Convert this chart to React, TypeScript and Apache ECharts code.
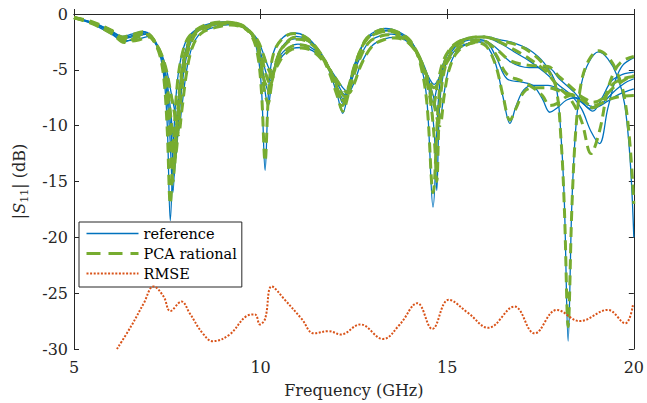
import React, { useEffect, useRef } from "react";
import * as echarts from "echarts";

// ---------- data ----------
const xTicks = [5, 10, 15, 20];
const yTicks = [0, -5, -10, -15, -20, -25, -30];

const c1Freq = [
  5.0, 5.5, 6.0, 6.3, 6.55, 6.85, 7.1, 7.3,
  7.42, 7.5, 7.58, 7.67, 7.77, 7.92, 8.1, 8.5,
  9.0, 9.4, 9.7, 9.9, 10.02, 10.12, 10.22, 10.35,
  10.6, 10.9, 11.2, 11.5, 11.8, 12.05, 12.2, 12.35,
  12.55, 12.8, 13.1, 13.35, 13.7, 14.0, 14.25, 14.45,
  14.62, 14.78, 14.95, 15.2, 15.6, 16.0, 16.4, 16.8,
  17.2, 17.6, 17.9, 18.05, 18.14, 18.24, 18.34, 18.45,
  18.6, 18.8, 19.05, 19.3, 19.55, 19.75, 19.9, 20.0,
];
const c1Ref = [
  -0.35, -0.75, -1.5, -2.0, -1.8, -1.55, -2.2, -3.6,
  -6.0, -10.0, -18.5, -11.0, -6.0, -3.2, -1.9, -1.0,
  -0.7, -0.9, -1.6, -3.2, -6.5, -14.0, -6.5, -3.4,
  -2.1, -1.7, -2.0, -3.0, -4.8, -7.2, -8.9, -7.0,
  -4.5, -2.3, -1.5, -1.3, -1.6, -2.3, -4.0, -7.5,
  -17.3, -7.0, -4.0, -2.7, -2.1, -2.0, -2.3, -2.6,
  -3.2, -4.4, -6.2, -11.0, -17.0, -29.3, -17.0, -10.0,
  -6.2, -4.3, -3.4, -4.0, -5.5, -8.0, -13.0, -20.0,
];
const c1Pca = [
  -0.3, -0.7, -1.45, -2.05, -1.85, -1.6, -2.25, -3.7,
  -6.2, -10.5, -17.0, -11.4, -6.2, -3.3, -1.95, -1.0,
  -0.72, -0.92, -1.65, -3.3, -6.8, -13.2, -6.7, -3.5,
  -2.15, -1.75, -2.05, -3.05, -4.9, -7.3, -8.7, -7.2,
  -4.6, -2.35, -1.55, -1.35, -1.65, -2.35, -4.1, -7.8,
  -16.0, -7.3, -4.1, -2.75, -2.15, -2.05, -2.4, -2.7,
  -3.35, -4.6, -6.4, -11.3, -17.5, -28.0, -17.4, -10.2,
  -6.0, -4.1, -3.3, -3.8, -5.2, -7.5, -11.8, -17.0,
];

const c2Freq = [
  5.0, 5.5, 6.0, 6.3, 6.6, 6.9, 7.15, 7.35,
  7.48, 7.57, 7.65, 7.74, 7.87, 8.02, 8.2, 8.6,
  9.1, 9.5, 9.8, 9.98, 10.1, 10.2, 10.3, 10.45,
  10.7, 11.0, 11.3, 11.6, 11.9, 12.1, 12.22, 12.35,
  12.55, 12.85, 13.2, 13.45, 13.8, 14.1, 14.35, 14.55,
  14.66, 14.72, 14.8, 14.95, 15.2, 15.5, 15.9, 16.3,
  16.7, 17.2, 17.7, 18.0, 18.4, 18.7, 18.9, 19.15,
  19.4, 19.7, 20.0,
];
const c2Ref = [
  -0.35, -0.8, -1.6, -2.2, -2.0, -1.7, -2.4, -4.0,
  -7.0, -11.0, -16.0, -10.0, -5.3, -2.9, -1.7, -1.0,
  -0.75, -1.0, -2.0, -4.0, -6.5, -8.3, -6.0, -3.8,
  -2.5, -2.2, -2.5, -3.5, -5.2, -7.0, -7.6, -6.5,
  -4.2, -2.2, -1.6, -1.5, -1.9, -2.8, -4.6, -7.5,
  -11.0, -15.8, -8.0, -4.6, -3.0, -2.4, -2.3, -3.0,
  -4.3, -4.8, -4.8, -5.8, -7.0, -8.2, -8.7, -7.5,
  -6.0, -5.4, -5.2,
];
const c2Pca = [
  -0.32, -0.78, -1.55, -2.25, -2.05, -1.75, -2.45, -4.1,
  -7.3, -11.5, -15.0, -10.3, -5.5, -3.0, -1.75, -1.05,
  -0.78, -1.05, -2.05, -4.1, -6.8, -8.0, -6.2, -3.9,
  -2.6, -2.25, -2.55, -3.55, -5.3, -7.1, -7.8, -6.6,
  -4.3, -2.25, -1.65, -1.55, -1.95, -2.9, -4.7, -7.8,
  -11.5, -15.0, -8.3, -4.7, -3.05, -2.45, -2.35, -3.1,
  -4.2, -4.6, -4.7, -5.6, -6.8, -7.8, -8.4, -7.8,
  -6.4, -5.8, -5.6,
];

const c3Freq = [
  5.0, 5.5, 6.0, 6.35, 6.65, 6.95, 7.2, 7.4,
  7.55, 7.64, 7.72, 7.81, 7.94, 8.08, 8.3, 8.7,
  9.15, 9.55, 9.85, 10.03, 10.15, 10.25, 10.35, 10.5,
  10.75, 11.0, 11.3, 11.6, 11.9, 12.1, 12.25, 12.4,
  12.6, 12.9, 13.25, 13.5, 13.85, 14.15, 14.4, 14.6,
  14.8, 14.92, 15.05, 15.3, 15.8, 16.05, 16.3, 16.5,
  16.68, 16.85, 17.05, 17.3, 17.7, 18.1, 18.4, 18.7,
  18.85, 19.05, 19.3, 19.6, 20.0,
];
const c3Ref = [
  -0.35, -0.85, -1.7, -2.5, -2.1, -1.8, -2.6, -4.3,
  -7.5, -10.5, -13.0, -9.3, -5.2, -3.0, -1.6, -1.05,
  -0.85, -1.15, -2.1, -3.8, -5.3, -6.0, -5.0, -3.8,
  -3.0, -2.7, -2.9, -3.7, -5.2, -6.5, -7.2, -6.3,
  -4.4, -2.5, -1.9, -1.8, -2.2, -3.2, -4.8, -7.0,
  -9.3, -7.0, -4.8, -3.2, -2.5, -2.8, -4.5, -7.5,
  -9.8, -8.2, -6.8, -6.4, -6.4, -6.9, -7.4, -8.2,
  -8.5, -8.3, -7.8, -7.2, -6.7,
];
const c3Pca = [
  -0.33, -0.82, -1.65, -2.55, -2.15, -1.85, -2.65, -4.4,
  -7.8, -10.8, -12.5, -9.6, -5.4, -3.1, -1.65, -1.1,
  -0.88, -1.2, -2.15, -3.9, -5.5, -6.2, -5.2, -3.9,
  -3.05, -2.75, -2.95, -3.75, -5.3, -6.6, -7.4, -6.5,
  -4.5, -2.55, -1.95, -1.85, -2.25, -3.3, -5.0, -7.4,
  -10.0, -7.3, -5.0, -3.3, -2.55, -2.9, -4.6, -7.4,
  -9.5, -8.4, -7.0, -6.6, -6.6, -7.0, -7.3, -7.9,
  -8.2, -8.1, -7.7, -7.4, -7.3,
];

const c4Freq = [
  5.0, 5.5, 6.0, 6.35, 6.7, 7.0, 7.25, 7.45,
  7.6, 7.72, 7.8, 7.89, 8.02, 8.17, 8.4, 8.8,
  9.2, 9.6, 9.9, 10.08, 10.2, 10.3, 10.42, 10.6,
  10.85, 11.1, 11.4, 11.7, 12.0, 12.2, 12.35, 12.5,
  12.7, 13.0, 13.35, 13.6, 13.95, 14.2, 14.45, 14.65,
  14.8, 15.0, 15.3, 15.7, 16.0, 16.3, 16.6, 17.0,
  17.3, 17.55, 17.75, 17.95, 18.2, 18.45, 18.7, 18.9,
  19.15, 19.45, 19.75, 20.0,
];
const c4Ref = [
  -0.35, -0.9, -1.8, -2.4, -2.3, -2.0, -2.9, -4.6,
  -7.0, -9.0, -10.5, -8.3, -5.0, -2.9, -1.7, -1.15,
  -0.95, -1.3, -2.2, -3.6, -4.7, -5.2, -4.6, -3.7,
  -3.1, -3.0, -3.3, -4.2, -5.6, -6.6, -7.0, -6.2,
  -4.4, -2.8, -2.2, -2.1, -2.5, -3.5, -5.3, -6.3,
  -5.6, -4.2, -3.0, -2.5, -2.4, -3.8, -5.8, -6.1,
  -6.4, -7.6, -8.8, -8.4, -7.7, -7.5, -8.0, -8.3,
  -8.0, -7.0, -6.2, -5.8,
];
const c4Pca = [
  -0.33, -0.88, -1.75, -2.45, -2.35, -2.05, -2.95, -4.7,
  -7.2, -9.4, -10.8, -8.6, -5.2, -3.0, -1.75, -1.2,
  -0.98, -1.35, -2.25, -3.7, -4.9, -5.4, -4.8, -3.8,
  -3.15, -3.05, -3.35, -4.3, -5.7, -6.7, -7.1, -6.3,
  -4.5, -2.85, -2.25, -2.15, -2.55, -3.6, -5.5, -6.6,
  -5.8, -4.3, -3.05, -2.55, -2.45, -3.6, -5.4, -6.0,
  -6.6, -7.3, -8.2, -8.0, -7.4, -7.2, -7.6, -7.9,
  -7.6, -6.6, -5.9, -5.5,
];

const c5Freq = [
  5.0, 5.5, 6.0, 6.3, 6.6, 6.9, 7.15, 7.38,
  7.52, 7.61, 7.68, 7.77, 7.9, 8.05, 8.25, 8.65,
  9.1, 9.5, 9.8, 9.98, 10.1, 10.22, 10.33, 10.48,
  10.72, 10.95, 11.25, 11.55, 11.85, 12.08, 12.2, 12.33,
  12.52, 12.8, 13.15, 13.4, 13.75, 14.05, 14.3, 14.5,
  14.62, 14.75, 14.92, 15.2, 15.6, 16.0, 16.4, 16.8,
  17.2, 17.6, 18.0, 18.3, 18.6, 18.85, 19.08, 19.3,
  19.5, 19.7, 20.0,
];
const c5Ref = [
  -0.35, -0.8, -1.55, -2.1, -1.9, -1.6, -2.3, -4.2,
  -7.5, -11.0, -14.5, -9.5, -5.0, -2.9, -1.6, -0.95,
  -0.72, -0.95, -1.9, -3.6, -5.8, -7.0, -5.5, -3.5,
  -2.4, -2.0, -2.3, -3.2, -4.9, -6.8, -8.0, -6.8,
  -4.6, -2.4, -1.6, -1.45, -1.8, -2.6, -4.2, -6.2,
  -7.9, -6.2, -4.2, -2.8, -2.2, -2.1, -2.6, -3.4,
  -4.2, -5.2, -6.4, -7.2, -8.5, -10.5, -11.6, -8.5,
  -6.0, -4.6, -3.9,
];
const c5Pca = [
  -0.32, -0.78, -1.5, -2.15, -1.95, -1.65, -2.35, -4.3,
  -7.8, -11.5, -13.8, -9.8, -5.2, -3.0, -1.65, -1.0,
  -0.75, -1.0, -1.95, -3.7, -6.0, -6.6, -5.7, -3.6,
  -2.45, -2.05, -2.35, -3.25, -5.0, -6.9, -8.2, -7.0,
  -4.7, -2.45, -1.65, -1.5, -1.85, -2.7, -4.4, -6.5,
  -8.3, -6.1, -4.0, -2.7, -2.15, -2.05, -2.5, -3.2,
  -4.0, -5.0, -6.6, -7.6, -9.6, -12.5, -10.5, -6.8,
  -5.0, -4.2, -3.8,
];

const rmseFreq = [
  6.15, 6.53, 6.87, 7.13, 7.4, 7.58, 7.88, 8.1, 8.45, 8.72,
  9.17, 9.6, 9.85, 9.98, 10.12, 10.3, 10.65, 11.1, 11.43, 11.83,
  12.15, 12.67, 13.28, 13.73, 14.2, 14.6, 15.04, 15.57, 16.1, 16.8,
  17.34, 17.94, 18.55, 19.3, 19.77, 19.98,
];
const rmseVal = [
  -30.0, -27.96, -25.9, -24.4, -25.3, -26.6, -25.75, -26.8, -28.6, -29.3,
  -28.7, -27.1, -26.9, -27.8, -27.3, -24.4, -25.6, -27.3, -28.6, -28.4,
  -28.7, -27.8, -29.1, -27.8, -25.9, -28.2, -25.6, -26.8, -28.1, -26.2,
  -28.6, -26.5, -27.5, -26.5, -27.7, -26.0,
];

// ---------- styling ----------
const FONT = "DejaVu Serif";
const BLUE = "#0072BD";
const GREEN = "#77AC30";
const ORANGE = "#D95319";
const AXIS = "#262626";

const curves = [
  { freq: c1Freq, ref: c1Ref, pca: c1Pca },
  { freq: c2Freq, ref: c2Ref, pca: c2Pca },
  { freq: c3Freq, ref: c3Ref, pca: c3Pca },
  { freq: c4Freq, ref: c4Ref, pca: c4Pca },
  { freq: c5Freq, ref: c5Ref, pca: c5Pca },
];

const zip = (f: number[], v: number[]) => f.map((x, i) => [x, v[i]]);

const hiddenSymbol = { color: "transparent", borderColor: "transparent", borderWidth: 0, opacity: 0 };

export default function App() {
  const ref = useRef<HTMLDivElement>(null);

  useEffect(() => {
    if (!ref.current) return;
    const chart = echarts.init(ref.current, undefined, { renderer: "svg" });

    const refSeries = curves.map((c) => ({
      name: "reference",
      type: "line",
      data: zip(c.freq, c.ref),
      smooth: 0.35,
      symbol: "none",
      showSymbol: false,
      clip: true,
      lineStyle: { color: BLUE, width: 1.3 },
      itemStyle: { color: BLUE },
      z: 2,
    }));
    const pcaSeries = curves.map((c) => ({
      name: "PCA rational",
      type: "line",
      data: zip(c.freq, c.pca),
      smooth: 0.35,
      symbol: "none",
      showSymbol: false,
      clip: true,
      lineStyle: { color: GREEN, width: 3, type: [10, 6] },
      itemStyle: { color: GREEN },
      z: 3,
    }));
    const rmseSeries = {
      name: "RMSE",
      type: "line",
      data: zip(rmseFreq, rmseVal),
      smooth: 0.4,
      symbol: "none",
      showSymbol: false,
      clip: true,
      lineStyle: { color: ORANGE, width: 2, type: [2, 1.6] },
      itemStyle: { color: ORANGE },
      z: 4,
    };

    const tickLabel = { fontFamily: FONT, fontSize: 16, color: AXIS };
    const axisLine = { show: true, lineStyle: { color: AXIS, width: 1 } };
    const axisTick = { show: true, inside: true, length: 5, lineStyle: { color: AXIS, width: 1 } };

    chart.setOption({
      animation: false,
      backgroundColor: "#ffffff",
      grid: { left: 69, right: 9, top: 14, bottom: 50, containLabel: false },
      legend: {
        show: true,
        selectedMode: false,
        orient: "vertical",
        left: 79,
        top: 222,
        padding: [4, 5, 6, 6],
        itemGap: 5,
        itemWidth: 52,
        itemHeight: 14,
        backgroundColor: "#ffffff",
        borderColor: AXIS,
        borderWidth: 1,
        borderRadius: 0,
        textStyle: { fontFamily: FONT, fontSize: 14.5, color: "#000" },
        data: [
          { name: "reference", itemStyle: hiddenSymbol, lineStyle: { width: 1.3, color: BLUE, opacity: 1 } },
          { name: "PCA rational", itemStyle: hiddenSymbol, lineStyle: { width: 3, color: GREEN, type: [14, 8], opacity: 1 } },
          { name: "RMSE", itemStyle: hiddenSymbol, lineStyle: { width: 2, color: ORANGE, type: [2, 1.6], opacity: 1 } },
        ],
      },
      xAxis: [
        {
          type: "value",
          position: "bottom",
          min: xTicks[0],
          max: xTicks[xTicks.length - 1],
          interval: 5,
          axisLine,
          axisTick,
          splitLine: { show: false },
          axisLabel: { ...tickLabel, margin: 10 },
          name: "Frequency (GHz)",
          nameLocation: "middle",
          nameGap: 33,
          nameTextStyle: { fontFamily: FONT, fontSize: 16, color: AXIS },
        },
        {
          type: "value",
          position: "top",
          min: xTicks[0],
          max: xTicks[xTicks.length - 1],
          interval: 5,
          axisLine,
          axisTick,
          splitLine: { show: false },
          axisLabel: { show: false },
        },
      ],
      yAxis: [
        {
          type: "value",
          position: "left",
          min: yTicks[yTicks.length - 1],
          max: yTicks[0],
          interval: 5,
          axisLine,
          axisTick,
          splitLine: { show: false },
          axisLabel: { ...tickLabel, margin: 6 },
          name: "|{i|S}{sub|11}| (dB)",
          nameLocation: "middle",
          nameGap: 44,
          nameRotate: 90,
          nameTextStyle: {
            fontFamily: FONT,
            fontSize: 16,
            color: AXIS,
            lineHeight: 22,
            rich: {
              i: { fontFamily: FONT, fontSize: 16, fontStyle: "italic", color: AXIS, lineHeight: 22 },
              sub: { fontFamily: FONT, fontSize: 11, color: AXIS, verticalAlign: "bottom", lineHeight: 14 },
            },
          },
        },
        {
          type: "value",
          position: "right",
          min: yTicks[yTicks.length - 1],
          max: yTicks[0],
          interval: 5,
          axisLine,
          axisTick,
          splitLine: { show: false },
          axisLabel: { show: false },
        },
      ],
      series: [...refSeries, ...pcaSeries, rmseSeries],
    });

    return () => chart.dispose();
  }, []);

  return (
    <div
      ref={ref}
      style={{ position: "absolute", left: 0, top: 0, width: 647, height: 403 }}
    />
  );
}
